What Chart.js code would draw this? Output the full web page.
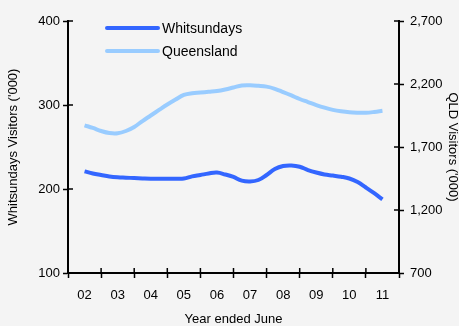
<!DOCTYPE html>
<html>
<head>
<meta charset="utf-8">
<script src="https://cdn.jsdelivr.net/npm/chart.js@4"></script>
<style>
  html, body { margin: 0; padding: 0; background: #f4f4f4; }
  #wrap { width: 459px; height: 326px; }
</style>
</head>
<body>
<div id="wrap"><canvas id="myChart"></canvas></div>
<script>
// Year ended June labels, one per year (placed at the June quarter)
const year_labels = ['02', '03', '04', '05', '06', '07', '08', '09', '10', '11'];

// Quarterly series, Jun-02 .. Jun-11, in '000
const whitsundays = [221, 218.5, 216.7, 215, 214, 213.5, 213, 212.6, 212.3, 212.3, 212.3, 212.3, 212.5,
  215, 216.7, 218.5, 219.5, 217.3, 214.3, 210, 209, 210.7, 216.7, 223.8, 227.4, 228, 226.5,
  222.6, 219.6, 217.3, 216, 214.6, 212.5, 208.3, 201.8, 195, 187.7];
const queensland = [1872, 1851, 1827, 1811, 1809, 1827, 1859, 1906, 1950, 1994, 2037, 2077, 2113,
  2127, 2132, 2138, 2144, 2156, 2172, 2188, 2190, 2186, 2179, 2162, 2136, 2109, 2081,
  2057, 2033, 2012, 1995, 1983, 1975, 1972, 1972, 1978, 1987];

const left_ticks = [100, 200, 300, 400];
const right_ticks = [700, 1200, 1700, 2200, 2700];

const font_family = "'Liberation Sans', Arial, sans-serif";

// x is the quarter index; year label sits on the June quarter (every 4th)
const toPoints = (arr) => arr.map((v, i) => ({ x: i, y: v }));

// tick marks that also poke into the plot area
const innerTicks = {
  id: 'innerTicks',
  afterDraw(chart) {
    const { ctx, chartArea, scales } = chart;
    ctx.save();
    ctx.strokeStyle = '#000';
    ctx.lineWidth = 1.5;
    scales.y.ticks.forEach(t => {
      const py = scales.y.getPixelForValue(t.value);
      ctx.beginPath(); ctx.moveTo(chartArea.left, py); ctx.lineTo(chartArea.left + 5, py); ctx.stroke();
    });
    scales.y2.ticks.forEach(t => {
      const py = scales.y2.getPixelForValue(t.value);
      ctx.beginPath(); ctx.moveTo(chartArea.right, py); ctx.lineTo(chartArea.right - 5, py); ctx.stroke();
    });
    scales.x.ticks.forEach(t => {
      if (t.value % 4 === 0) return;
      const px = scales.x.getPixelForValue(t.value);
      ctx.beginPath(); ctx.moveTo(px, chartArea.bottom); ctx.lineTo(px, chartArea.bottom - 5); ctx.stroke();
    });
    ctx.restore();
  }
};

// legend inside the plot, top left
const insideLegend = {
  id: 'insideLegend',
  afterDraw(chart) {
    const { ctx, chartArea } = chart;
    ctx.save();
    ctx.font = '14px ' + font_family;
    ctx.textBaseline = 'middle';
    ctx.fillStyle = '#000';
    chart.data.datasets.forEach((ds, i) => {
      const y = chartArea.top + 7 + i * 23;
      const x0 = chartArea.left + 39;
      ctx.strokeStyle = ds.borderColor;
      ctx.lineWidth = 4;
      ctx.lineCap = 'round';
      ctx.beginPath(); ctx.moveTo(x0, y); ctx.lineTo(x0 + 51, y); ctx.stroke();
      ctx.fillText(ds.label, x0 + 55, y + 1);
    });
    ctx.restore();
  }
};

const ctx = document.getElementById('myChart').getContext('2d');
const myChart = new Chart(ctx, {
  type: 'line',
  data: {
    datasets: [
      {
        label: 'Whitsundays',
        data: toPoints(whitsundays),
        yAxisID: 'y',
        borderColor: '#3366ff',
        borderWidth: 4,
        pointRadius: 0,
        tension: 0.4,
        fill: false
      },
      {
        label: 'Queensland',
        data: toPoints(queensland),
        yAxisID: 'y2',
        borderColor: '#99ccff',
        borderWidth: 4,
        pointRadius: 0,
        tension: 0.4,
        fill: false
      }
    ]
  },
  options: {
    responsive: true,
    maintainAspectRatio: false,
    animation: false,
    layout: { padding: { top: 21, left: 0, right: 0, bottom: 0 } },
    plugins: {
      legend: { display: false },
      tooltip: { enabled: false }
    },
    scales: {
      x: {
        type: 'linear',
        min: -2,
        max: year_labels.length * 4 - 2,
        afterBuildTicks: (scale) => {
          const ticks = [];
          for (let v = -2; v <= year_labels.length * 4 - 2; v += 2) ticks.push({ value: v });
          scale.ticks = ticks;
        },
        afterFit: (scale) => { scale.height = 53; },
        ticks: {
          autoSkip: false,
          maxRotation: 0,
          color: '#000',
          padding: 10,
          font: { family: font_family, size: 13 },
          callback: (v) => (v % 4 === 0 ? year_labels[v / 4] : '')
        },
        grid: {
          drawOnChartArea: false,
          tickLength: 5,
          tickWidth: 1.5,
          tickColor: (c) => (c.tick && c.tick.value % 4 === 0 ? 'rgba(0,0,0,0)' : '#000')
        },
        border: { color: '#000', width: 2 },
        title: {
          display: true,
          text: 'Year ended June',
          color: '#000',
          padding: { top: 0, bottom: 0 },
          font: { family: font_family, size: 13, lineHeight: 1 }
        }
      },
      y: {
        position: 'left',
        min: 100,
        max: 400,
        afterBuildTicks: (scale) => { scale.ticks = left_ticks.map(v => ({ value: v })); },
        afterFit: (scale) => { scale.width = 68; },
        ticks: {
          color: '#000',
          padding: 3,
          font: { family: font_family, size: 13 }
        },
        grid: { drawOnChartArea: false, tickLength: 5, tickWidth: 1.5, tickColor: '#000' },
        border: { color: '#000', width: 2 },
        title: {
          display: true,
          text: "Whitsundays Visitors ('000)",
          color: '#000',
          padding: { top: 7, bottom: 0 },
          font: { family: font_family, size: 13, lineHeight: 1 }
        }
      },
      y2: {
        position: 'right',
        min: 700,
        max: 2700,
        afterBuildTicks: (scale) => { scale.ticks = right_ticks.map(v => ({ value: v })); },
        afterFit: (scale) => { scale.width = 60; },
        ticks: {
          color: '#000',
          padding: 6,
          font: { family: font_family, size: 13 },
          callback: (v) => v.toLocaleString('en-US')
        },
        grid: { drawOnChartArea: false, tickLength: 5, tickWidth: 1.5, tickColor: '#000' },
        border: { color: '#000', width: 2 },
        title: {
          display: true,
          text: "QLD Visitors ('000)",
          color: '#000',
          padding: { top: 0, bottom: 0 },
          font: { family: font_family, size: 13, lineHeight: 1 }
        }
      }
    }
  },
  plugins: [innerTicks, insideLegend]
});
</script>
</body>
</html>
